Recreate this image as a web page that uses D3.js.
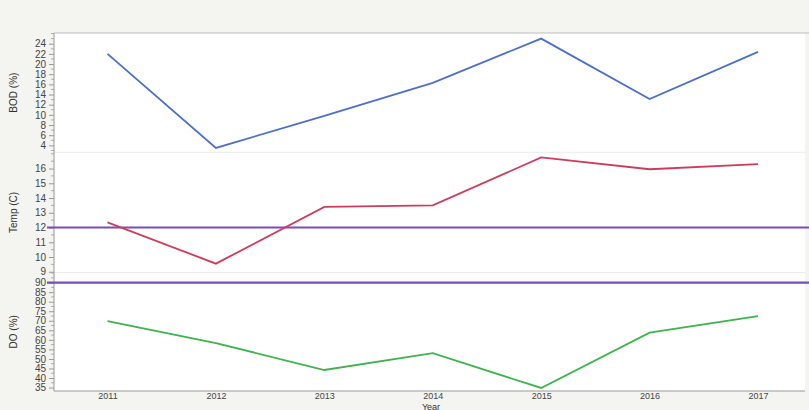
<!DOCTYPE html>
<html><head><meta charset="utf-8">
<script src="https://cdn.jsdelivr.net/npm/d3@7"></script>
<style>body{margin:0;background:#f4f4f1;}svg{display:block;font-family:"Liberation Sans",Arial,sans-serif;}</style>
</head><body>
<svg id="c" width="809" height="410"></svg>
<script>
const years = [2011, 2012, 2013, 2014, 2015, 2016, 2017];
const bod = [22.0, 3.5, 9.8, 16.3, 25.0, 13.1, 22.4];
const temp = [12.35, 9.55, 13.4, 13.5, 16.75, 15.95, 16.3];
const dO = [69.8, 58.3, 44.2, 53.0, 34.8, 63.8, 72.4];
const bodTicks = [4, 6, 8, 10, 12, 14, 16, 18, 20, 22, 24];
const tempTicks = [9, 10, 11, 12, 13, 14, 15, 16];
const doTicks = [35, 40, 45, 50, 55, 60, 65, 70, 75, 80, 85, 90];
const tempRef = 12;
const doRef = 90;

const svg = d3.select("#c");
const L = 54, R = 805, T = 33, B = 391;
const panels = [
  {name:"BOD (%)", vals:bod, ticks:bodTicks, minor:1, dom:[2.64, 26.1], y0:T, y1:152.3, color:"#4d6fcc"},
  {name:"Temp (C)", vals:temp, ticks:tempTicks, minor:0.5, dom:[8.95, 17.1], y0:152.3, y1:272.5, color:"#cc3d5c", ref:tempRef},
  {name:"DO (%)", vals:dO, ticks:doTicks, minor:2.5, dom:[33.2, 95.3], y0:272.5, y1:B, color:"#3fb34d", ref:doRef}
];

svg.append("rect").attr("x",0).attr("y",0).attr("width",809).attr("height",410).attr("fill","#f4f4f1");
svg.append("rect").attr("x",L).attr("y",T).attr("width",R-L).attr("height",B-T).attr("fill","#ffffff");
svg.append("line").attr("x1",L).attr("x2",809).attr("y1",T).attr("y2",T).attr("stroke","#bdbdbd").attr("stroke-width",1.2);

const x = d3.scalePoint().domain(years).range([107.5, 758]);

panels.forEach((p,i)=>{
  const y = d3.scaleLinear().domain(p.dom).range([p.y1, p.y0]);
  p.y = y;
  if(i>0){
    svg.append("line").attr("x1",L).attr("x2",R).attr("y1",p.y0).attr("y2",p.y0).attr("stroke","#ececec").attr("stroke-width",1);
  }
  const minors = d3.range(Math.ceil(p.dom[0]/p.minor)*p.minor, p.dom[1], p.minor).filter(v=>!p.ticks.includes(+v.toFixed(3)));
  svg.append("g").selectAll("line").data(minors).join("line")
    .attr("x1",L-3).attr("x2",L).attr("y1",d=>y(d)).attr("y2",d=>y(d)).attr("stroke","#999").attr("stroke-width",0.8);
  const ax = svg.append("g").attr("transform",`translate(${L},0)`)
    .call(d3.axisLeft(y).tickValues(p.ticks).tickSize(5).tickSizeOuter(0).tickPadding(3));
  ax.select(".domain").remove();
  ax.selectAll(".tick line").attr("stroke","#999");
  ax.selectAll(".tick text").attr("fill","#444").style("font-size","10px");
  svg.append("text").attr("transform",`translate(17,${(p.y0+p.y1)/2}) rotate(-90)`)
    .attr("text-anchor","middle").attr("fill","#333").style("font-size","10px").text(p.name);
});

svg.append("line").attr("x1",L).attr("x2",L).attr("y1",T).attr("y2",B).attr("stroke","#999").attr("stroke-width",1);

panels.filter(p=>p.ref!==undefined).forEach(p=>{
  svg.append("line").attr("x1",47).attr("x2",809).attr("y1",p.y(p.ref)).attr("y2",p.y(p.ref))
    .attr("stroke","#7a4db5").attr("stroke-width",2.2);
});

panels.forEach(p=>{
  const line = d3.line().x((d,i)=>x(years[i])).y(d=>p.y(d));
  svg.append("path").datum(p.vals).attr("d",line).attr("fill","none")
    .attr("stroke",p.color).attr("stroke-width",1.8).attr("stroke-linejoin","miter");
});

const xa = svg.append("g").attr("transform",`translate(0,${B})`).call(d3.axisBottom(x).tickSize(0).tickPadding(2).tickFormat(d3.format("d")));
xa.select(".domain").remove();
xa.selectAll(".tick text").attr("fill","#444").style("font-size","9px");
svg.append("line").attr("x1",L).attr("x2",R).attr("y1",B).attr("y2",B).attr("stroke","#999").attr("stroke-width",1);
svg.append("text").attr("x",431).attr("y",409.5).attr("text-anchor","middle").attr("fill","#333").style("font-size","9px").text("Year");
</script>
</body></html>
